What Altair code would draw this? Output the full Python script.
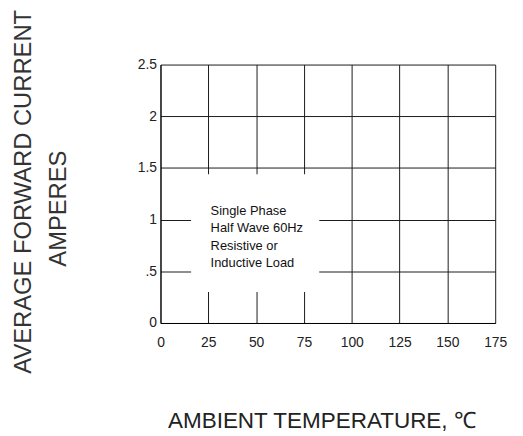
import altair as alt
import pandas as pd

# ---- data ----
x_ticks = [0, 25, 50, 75, 100, 125, 150, 175]
y_ticks = [0, 0.5, 1, 1.5, 2, 2.5]
y_tick_labels = ["0", ".5", "1", "1.5", "2", "2.5"]
x_domain = [0, 175]
y_domain = [0, 2.5]

note_lines = ["Single Phase", "Half Wave 60Hz", "Resistive or", "Inductive Load"]
note_x = [26.2]
note_y = [1.08]
box_x = [16, 83]
box_y = [0.30, 1.44]

x_title = "AMBIENT TEMPERATURE, ℃"
y_title = "AVERAGE FORWARD CURRENT"
y_subtitle = "AMPERES"

FONT = "Liberation Sans"

# ---- tables ----
box_df = pd.DataFrame({"x0": [box_x[0]], "x1": [box_x[1]], "y0": [box_y[0]], "y1": [box_y[1]]})
note_df = pd.DataFrame({"x": note_x, "y": note_y, "text": ["\n".join(note_lines)]})

expr = "''"
for v, l in reversed(list(zip(y_ticks, y_tick_labels))):
    expr = f"datum.value == {v} ? '{l}' : ({expr})"

x_axis = alt.Axis(
    values=x_ticks, title=x_title, grid=True, ticks=False, labelPadding=13,
    labelFontSize=14, labelFont=FONT, labelColor="#222",
    titleFont=FONT, titleFontSize=22.7, titleFontWeight="normal", titleColor="#222",
    titleX=162.5, titleY=106, titleBaseline="alphabetic", titleAlign="center",
    labelFlush=False,
)
y_axis = alt.Axis(
    values=y_ticks, title=y_title, grid=True, ticks=False, labelPadding=4,
    labelExpr=expr, labelFontSize=14, labelFont=FONT, labelColor="#222",
    titleFont=FONT, titleFontSize=24, titleFontWeight="normal", titleColor="#333",
    titleAngle=-90, titleX=-138, titleY=128, titleBaseline="middle",
    titleAlign="center",
)
y_axis2 = alt.Axis(
    orient="left", title=y_subtitle, grid=False, ticks=False, labels=False,
    domain=False, values=y_ticks,
    titleFont=FONT, titleFontSize=24, titleFontWeight="normal", titleColor="#333",
    titleAngle=-90, titleX=-103, titleY=145, titleBaseline="middle",
    titleAlign="center",
)

x_scale = alt.Scale(domain=x_domain, nice=False, zero=False)
y_scale = alt.Scale(domain=y_domain, nice=False, zero=False)

box = alt.Chart(box_df).mark_rect(fill="white", stroke=None).encode(
    x=alt.X("x0:Q", scale=x_scale, axis=x_axis),
    x2="x1:Q",
    y=alt.Y("y0:Q", scale=y_scale, axis=y_axis),
    y2="y1:Q",
)

note = alt.Chart(note_df).mark_text(
    align="left", baseline="middle", lineBreak="\n", lineHeight=17.3,
    fontSize=13, font=FONT, color="#111",
).encode(
    x=alt.X("x:Q", scale=x_scale, axis=x_axis),
    y=alt.Y("y:Q", scale=y_scale, axis=y_axis2),
    text="text:N",
)

chart = alt.layer(box, note).resolve_axis(y="independent").properties(
    width=338, height=261,
    autosize=alt.AutoSizeParams(type="none"),
    padding={"left": 154, "top": 55, "right": 20, "bottom": 112},
    background="white",
).configure_view(stroke=None).configure_axis(
    gridColor="#1a1a1a", gridWidth=1, gridOpacity=1,
    domainColor="#000", domainWidth=1,
)

chart.save("out.html", embed_options={"renderer": "svg", "actions": False})
